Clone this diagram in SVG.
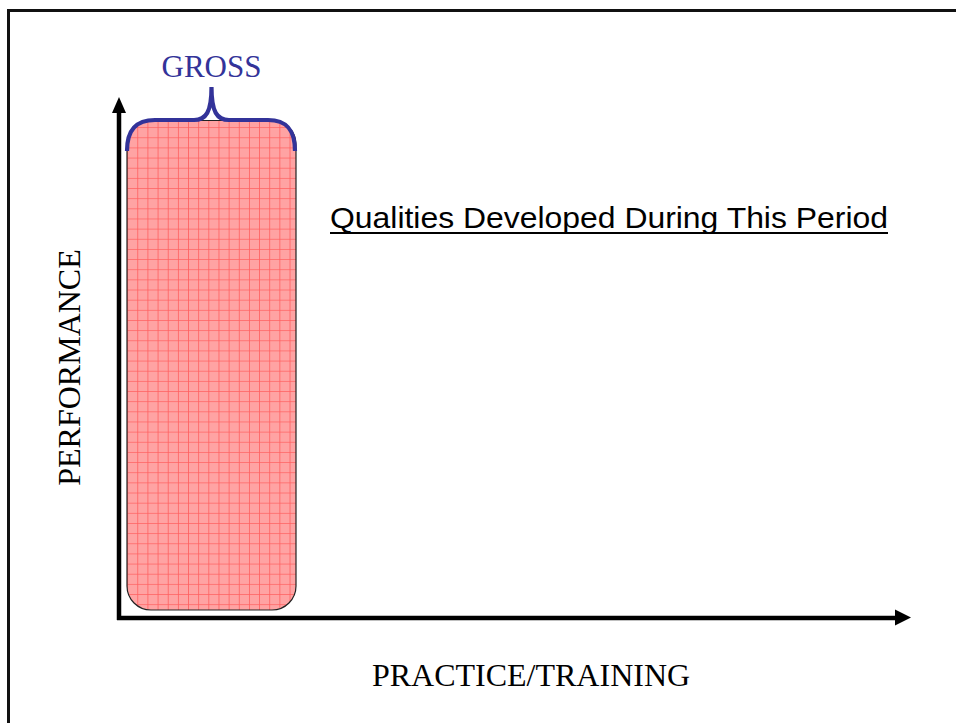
<svg xmlns="http://www.w3.org/2000/svg" width="956" height="723" viewBox="0 0 956 723">
  <style>
    .serif { font-family: "Liberation Serif", "Times New Roman", serif; }
    .sans { font-family: "Liberation Sans", Arial, sans-serif; }
    .axis { stroke: #000; stroke-width: 4.5; fill: none; }
    .head { fill: #000; }
  </style>
  <defs>
    <!-- red checked hatch used for the period block -->
    <pattern id="grid" patternUnits="userSpaceOnUse" x="137.3" y="543.3" width="10.15" height="10.15">
      <rect width="10.15" height="10.15" fill="#ffa3a3"/>
      <path d="M0,0 H10.15 M0,0 V10.15" stroke="#ff5f5f" stroke-width="1.6"/>
    </pattern>
  </defs>

  <rect width="956" height="723" fill="#fff"/>

  <!-- frame: top and left edges -->
  <path d="M8.5,723 V10.5 H956" fill="none" stroke="#111" stroke-width="3"/>

  <g id="period-block">
    <rect x="127" y="120.5" width="169" height="489.5" rx="24" ry="24" fill="url(#grid)" stroke="#222" stroke-width="1.2"/>
  </g>

  <g id="gross-brace">
    <path d="M127,151 C127,130 136,120 155,120 L194,120 C206,120 211.5,112 211.5,87 C211.5,112 217,120 229,120 L268,120 C287,120 295,130 295,151" fill="none" stroke="#333399" stroke-width="4.2"/>
    <text class="serif" x="211.5" y="77" font-size="31" fill="#333399" text-anchor="middle">GROSS</text>
  </g>

  <g id="connectors">
    <!-- vertical axis -->
    <line class="axis" x1="119" y1="112" x2="119" y2="620"/>
    <polygon class="head" points="119,97 126,113 112,113"/>
    <!-- horizontal axis -->
    <line class="axis" x1="117" y1="618" x2="896" y2="618"/>
    <polygon class="head" points="911,617.5 895,609.5 895,625.5"/>
  </g>

  <g id="axis-labels">
    <text class="serif" x="0" y="0" font-size="32" text-anchor="middle" transform="translate(80,367.5) rotate(-90)">PERFORMANCE</text>
    <text class="serif" x="531" y="686" font-size="32" text-anchor="middle">PRACTICE/TRAINING</text>
  </g>

  <g id="qualities-heading">
    <text class="sans" x="330" y="228" font-size="30" textLength="558" lengthAdjust="spacingAndGlyphs">Qualities Developed During This Period</text>
    <line x1="330" y1="233" x2="888" y2="233" stroke="#000" stroke-width="2"/>
  </g>
</svg>
